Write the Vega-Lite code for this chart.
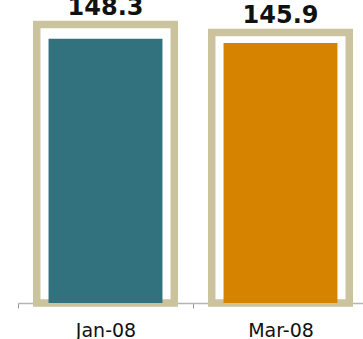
{
  "$schema": "https://vega.github.io/schema/vega-lite/v6.json",
  "width": 345,
  "height": 303,
  "autosize": {"type": "none"},
  "padding": {"left": 18, "top": 0, "right": 0, "bottom": 36},
  "background": "white",
  "data": {
    "values": [
      {"month": "Jan-08", "value": 148.3, "frame": 156.2},
      {"month": "Mar-08", "value": 145.9, "frame": 151.7}
    ]
  },
  "encoding": {
    "x": {
      "field": "month",
      "type": "nominal",
      "sort": null,
      "scale": {"range": [0, 350], "paddingInner": 0, "paddingOuter": 0},
      "axis": {
        "title": null,
        "labelAngle": 0,
        "labelFont": "DejaVu Sans",
        "labelFontSize": 19,
        "labelColor": "#111111",
        "labelPadding": 13,
        "tickBand": "extent",
        "tickSize": 5,
        "tickColor": "#999999",
        "domainColor": "#b5b5b5",
        "domainWidth": 1.5,
        "grid": false
      }
    }
  },
  "layer": [
    {
      "mark": {
        "type": "bar",
        "filled": false,
        "fill": "transparent",
        "stroke": "#CBC29E",
        "strokeWidth": 7.5,
        "width": {"band": 0.786},
        "y2Offset": -3.75
      },
      "encoding": {
        "y": {"field": "frame", "type": "quantitative", "scale": {"domain": [0, 170], "nice": false}, "axis": null}
      }
    },
    {
      "mark": {"type": "bar", "width": {"band": 0.651}},
      "encoding": {
        "y": {"field": "value", "type": "quantitative"},
        "color": {
          "field": "month",
          "type": "nominal",
          "sort": null,
          "scale": {"range": ["#32727F", "#D68400"]},
          "legend": null
        }
      }
    },
    {
      "mark": {
        "type": "text",
        "baseline": "alphabetic",
        "dy": -10,
        "font": "DejaVu Sans",
        "fontWeight": "bold",
        "fontSize": 24,
        "color": "#111111"
      },
      "encoding": {
        "y": {"field": "frame", "type": "quantitative"},
        "text": {"field": "value", "type": "quantitative", "format": ".1f"}
      }
    }
  ],
  "config": {"view": {"stroke": null}}
}
